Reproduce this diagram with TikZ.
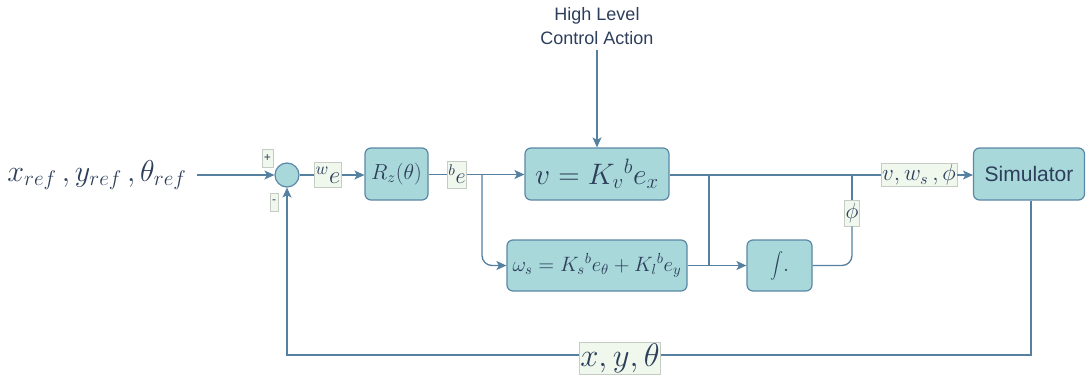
\documentclass[tikz,border=0pt]{standalone}
\usepackage{fix-cm}
\usepackage{graphicx}
\usepackage{fontspec}
\newfontfamily\lsans{Liberation Sans}
\usetikzlibrary{arrows.meta}
\definecolor{boxfill}{HTML}{A8D8DA}
\definecolor{boxline}{HTML}{5B87A6}
\definecolor{wire}{HTML}{55809F}
\definecolor{txt}{HTML}{2D3E5A}
\definecolor{lblfill}{HTML}{F0F8EE}
\definecolor{lblline}{HTML}{C4CCC4}
\newcommand\mth[2]{\scalebox{#1}{$#2$}}
\tikzset{
  blk/.style={draw=boxline, fill=boxfill, rounded corners=6pt, line width=1.2pt, text=txt, inner sep=0pt, align=center},
  lbl/.style={draw=lblline, fill=lblfill, line width=0.6pt, text=txt, inner sep=1.5pt},
  wr/.style={draw=wire, line width=1.3pt},
  arr/.style={wr, -{Stealth[length=10pt,width=9pt,inset=2.5pt]}},
}
\begin{document}
\begin{tikzpicture}[x=1pt,y=-1pt]
\useasboundingbox (0,0) rectangle (1086,378);
% input text
\node[text=txt, font=\fontsize{22}{24}\selectfont] (in) at (97,175) {\mth{1.37}{x_{ref}\,, y_{ref}\,, \theta_{ref}}};
\coordinate (inEnd) at (197,175);
% sum
\node[draw=boxline, fill=boxfill, line width=1.2pt, circle, minimum size=24pt, inner sep=0pt] (sum) at (287,175) {};
\node[lbl, font=\lsans\fontsize{12}{13}\selectfont, inner sep=0pt, minimum width=11pt, minimum height=18pt] (plus) at (267.5,158) {+};
\node[lbl, font=\lsans\fontsize{12}{13}\selectfont, inner sep=0pt, minimum width=8pt, minimum height=18pt] (minus) at (274,202) {-};
% Rz
\node[blk, minimum width=63pt, minimum height=52pt, font=\fontsize{17}{20}\selectfont] (rz) at (396.5,174) {\mth{1.28}{R_z(\theta)}};
\node[lbl, font=\fontsize{17}{20}\selectfont, minimum height=25pt, inner sep=1pt] (we) at (328,175) {\mth{1.45}{{}^{w}e}};
\node[lbl, font=\fontsize{17}{20}\selectfont, minimum height=27pt, inner sep=1pt] (be) at (457,174.5) {\mth{1.3}{{}^{b}e}};
% v box
\node[blk, minimum width=144pt, minimum height=52pt, font=\fontsize{21}{24}\selectfont] (v) at (597,174) {\mth{1.41}{v = K_v{}^{b}e_x}};
% omega box
\node[blk, minimum width=180pt, minimum height=51pt, font=\fontsize{16}{19}\selectfont] (w) at (597,265.5) {\mth{1.3}{\omega_s = K_s{}^{b}e_\theta + K_l{}^{b}e_y}};
% integral
\node[blk, minimum width=65pt, minimum height=51pt, font=\fontsize{17}{20}\selectfont] (int) at (779.5,265.5) {\mth{1.3}{\displaystyle\int\!.}};
% simulator
\node[blk, minimum width=111pt, minimum height=52pt, font=\lsans\fontsize{21}{24}\selectfont] (sim) at (1029,174) {Simulator};
% high level
\node[text=txt, font=\lsans\fontsize{18}{24}\selectfont, align=center] (hl) at (597,26) {High Level\\Control Action};
\coordinate (hlEnd) at (597,50);
% labels on wires
\node[lbl, font=\fontsize{17}{20}\selectfont, minimum height=23pt, inner sep=1pt] (out) at (919,175) {\mth{1.36}{v, w_s\,, \phi}};
\node[lbl, font=\fontsize{17}{20}\selectfont, minimum height=26pt, inner sep=1pt] (phi) at (852,213) {\mth{1.3}{\phi}};
\node[lbl, font=\fontsize{23}{26}\selectfont, minimum height=32pt, inner sep=1pt] (xyt) at (620,358) {\mth{1.42}{x, y, \theta}};
% junction coordinates
\coordinate (j1) at (482,175);
\coordinate (j2) at (709,175);
\coordinate (j3) at (709,265.5);
\coordinate (fb) at (1031,355);
% wires
\draw[arr] (inEnd) -- (sum.west);
\draw[wr] (sum.east) -- (we.west);
\draw[arr] (we.east) -- (rz.west |- we.east);
\draw[wr] (rz.east |- be.west) -- (be.west);
\draw[arr] (be.east) -- (v.west |- be.east);
\draw[arr, rounded corners=10pt] (j1) |- (w.west);
\draw[arr] (hlEnd) -- (v.north);
\draw[wr] (v.east |- out.west) -- (out.west);
\draw[arr] (out.east) -- (sim.west |- out.east);
\draw[wr] (j2) -- (j3);
\draw[arr] (w.east) -- (int.west);
\draw[wr, rounded corners=10pt] (int.east) -| (phi.south);
\draw[wr] (phi.north) -- (phi.north |- out.west);
\draw[wr] (sim.south -| fb) -- (fb) -- (xyt.east |- fb);
\draw[arr] (xyt.west |- fb) -| (sum.south);
\end{tikzpicture}
\end{document}
